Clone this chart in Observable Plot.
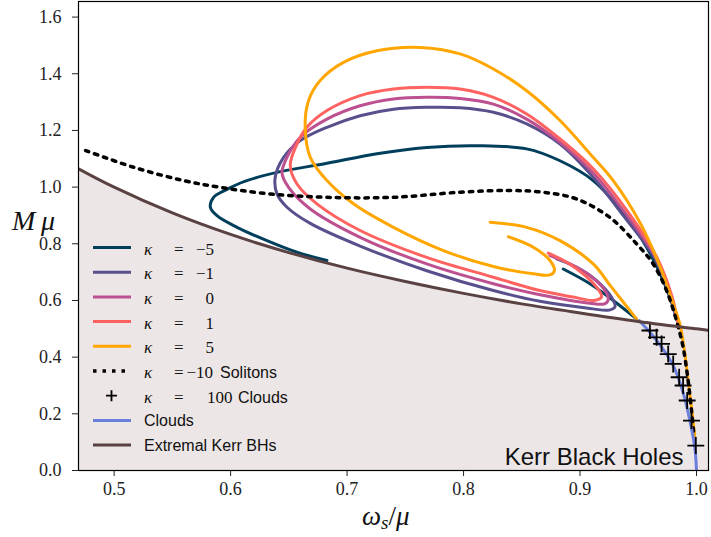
<!DOCTYPE html>
<html><head><meta charset="utf-8">
<script src="https://cdn.jsdelivr.net/npm/d3@7"></script>
<script src="https://cdn.jsdelivr.net/npm/@observablehq/plot@0.6"></script>
<style>html,body{margin:0;padding:0;background:#fff;}</style>
</head><body><div id="chart"></div>
<script>
// ---- data ----
const kerrX = [0.4694,0.5,0.55,0.6,0.65,0.7,0.75,0.8,0.85,0.9,0.95,1.0,1.0103];
const kerrY = [1.065,1.0,0.909,0.833,0.769,0.714,0.667,0.625,0.588,0.556,0.526,0.5,0.495];

const kappaM5Main = [[0.9843,0.517],[0.98,0.576],[0.9714,0.670],[0.9571,0.788],[0.94,0.893],[0.9113,1.023],[0.8828,1.093],[0.8542,1.135],[0.8113,1.146],[0.7684,1.140],[0.7256,1.118],[0.6827,1.084],[0.6398,1.052],[0.6120,1.020],[0.5960,0.990],[0.5854,0.964],[0.5826,0.929],[0.5883,0.899],[0.6055,0.858],[0.6312,0.811],[0.657,0.770],[0.6827,0.741]];
const kappaM5Inner = [[0.8856,0.711],[0.9085,0.659],[0.9285,0.600],[0.9485,0.535]];

const kappaM1Main = [[0.9843,0.517],[0.977,0.62],[0.964,0.75],[0.937,0.90],[0.9113,1.035],[0.8828,1.152],[0.8542,1.223],[0.8256,1.264],[0.797,1.280],[0.7684,1.2815],[0.7398,1.275],[0.7112,1.252],[0.6827,1.211],[0.6598,1.164],[0.6455,1.105],[0.6383,1.035],[0.6398,0.976],[0.6484,0.929],[0.6684,0.872],[0.7112,0.792],[0.7684,0.705],[0.8256,0.635],[0.8656,0.597],[0.9085,0.572],[0.925,0.566],[0.93,0.578],[0.9271,0.611],[0.9142,0.670],[0.8971,0.717],[0.88,0.747]];

const kappa0Main = [[0.9843,0.517],[0.978,0.62],[0.965,0.752],[0.940,0.902],[0.9113,1.050],[0.8828,1.158],[0.8542,1.240],[0.8256,1.293],[0.797,1.313],[0.7684,1.317],[0.7398,1.311],[0.7112,1.287],[0.6827,1.240],[0.6598,1.176],[0.6484,1.105],[0.6441,1.050],[0.6498,0.999],[0.6684,0.923],[0.7112,0.823],[0.7684,0.729],[0.8256,0.659],[0.8656,0.620],[0.9085,0.590],[0.921,0.588],[0.9242,0.602],[0.9214,0.635],[0.9085,0.688],[0.8913,0.729],[0.8742,0.758]];

const kappa1Main = [[0.9843,0.517],[0.9785,0.62],[0.966,0.752],[0.943,0.902],[0.9113,1.065],[0.8828,1.170],[0.8542,1.258],[0.8256,1.317],[0.797,1.346],[0.7684,1.352],[0.7398,1.346],[0.7112,1.323],[0.6827,1.270],[0.6655,1.211],[0.657,1.152],[0.6512,1.076],[0.657,1.011],[0.6741,0.941],[0.7112,0.847],[0.7684,0.752],[0.8256,0.682],[0.8656,0.635],[0.8942,0.612],[0.912,0.600],[0.9185,0.613],[0.9142,0.647],[0.9027,0.694],[0.8885,0.735],[0.8727,0.767]];

const kappa5Main = [[0.9985,0.12],[0.9957,0.223],[0.9928,0.317],[0.99,0.412],[0.9857,0.517],[0.98,0.588],[0.9686,0.72],[0.9514,0.875],[0.9285,1.023],[0.9113,1.105],[0.8828,1.235],[0.8542,1.340],[0.8256,1.417],[0.797,1.470],[0.7627,1.493],[0.7256,1.481],[0.6969,1.440],[0.6769,1.376],[0.6669,1.305],[0.664,1.211],[0.6684,1.105],[0.6827,1.023],[0.7055,0.941],[0.7398,0.858],[0.7827,0.776],[0.8256,0.720],[0.8599,0.694],[0.8742,0.690],[0.878,0.705],[0.8742,0.741],[0.8599,0.788],[0.8384,0.825]];
const kappa5Inner = [[0.8228,0.876],[0.8542,0.858],[0.8828,0.811],[0.9113,0.729],[0.927,0.647],[0.9485,0.535]];

const solitonsM10 = [[0.4755,1.129],[0.5168,1.070],[0.5597,1.023],[0.5912,0.999],[0.6312,0.977],[0.6827,0.964],[0.7398,0.964],[0.797,0.982],[0.8399,0.988],[0.8684,0.982],[0.8971,0.958],[0.9256,0.893],[0.9485,0.800],[0.9628,0.729],[0.9743,0.635],[0.9828,0.529],[0.9885,0.435],[0.9928,0.317],[0.9957,0.212],[0.9977,0.129]];

const cloudsLine = [[0.9508,0.529],[0.9657,0.459],[0.98,0.370],[0.9885,0.275],[0.9943,0.176],[0.9985,0.082],[1.0,0.0]];
const clouds100 = [[0.96,0.494],[0.9657,0.470],[0.97,0.447],[0.9757,0.411],[0.98,0.376],[0.9851,0.329],[0.9885,0.300],[0.992,0.247],[0.9957,0.176],[0.9994,0.088]];

const xTicks = [0.5,0.6,0.7,0.8,0.9,1.0];
const yTicks = [0,0.2,0.4,0.6,0.8,1.0,1.2,1.4,1.6];

const kappaLabels = ["\u22125","\u22121","0","1","5"];
const kappaColors = ["#003f5c","#58508d","#bc5090","#ff6361","#ffa600"];
const cloudsColor = "#6a7fdb";
const kerrColor = "#5b4242";
const kerrFill = "#ede6e6";

// ---- build tables ----
const toRows = (arr) => arr.map(([x,y]) => ({x,y}));
const kerr = kerrX.map((x,i) => ({x, y: kerrY[i]}));
const kappaSeries = [
  [kappaM5Main, kappaM5Inner],
  [kappaM1Main],
  [kappa0Main],
  [kappa1Main],
  [kappa5Main, kappa5Inner]
];

const lineMarks = [];
kappaSeries.forEach((parts, i) => {
  parts.forEach(p => lineMarks.push(Plot.line(toRows(p), {x:"x", y:"y", stroke: kappaColors[i], strokeWidth: 3, curve: "catmull-rom", clip: true})));
});

const serif = "'Liberation Serif', serif", sans = "'Liberation Sans', sans-serif";

const chart = Plot.plot({
  width: 711, height: 537,
  marginLeft: 78, marginRight: 3, marginTop: 1, marginBottom: 67,
  style: {fontFamily: serif, fontSize: "18px", color: "#222", background: "#fff"},
  x: {domain: [0.4694, 1.0103]},
  y: {domain: [0, 1.655]},
  marks: [
    Plot.areaY(kerr, {x:"x", y:"y", fill: kerrFill, curve: "catmull-rom", clip: true}),
    ...lineMarks,
    Plot.line(toRows(solitonsM10), {x:"x", y:"y", stroke:"black", strokeWidth:3.5, strokeDasharray:"3.5 6", curve:"catmull-rom", clip:true}),
    Plot.line(toRows(cloudsLine), {x:"x", y:"y", stroke: cloudsColor, strokeWidth:3, curve:"catmull-rom", clip:true}),
    Plot.dot(toRows(clouds100), {x:"x", y:"y", symbol:"plus", r:5.5, stroke:"black", strokeWidth:1.8}),
    Plot.line(kerr, {x:"x", y:"y", stroke: kerrColor, strokeWidth:3, curve:"catmull-rom", clip:true}),
    Plot.axisX({ticks: xTicks, tickFormat: d3.format(".1f"), tickSize: 6, tickPadding: 6, fontSize: 18, fontFamily: serif, label: null}),
    Plot.axisY({ticks: yTicks, tickFormat: d3.format(".1f"), tickSize: 6, tickPadding: 11, fontSize: 18, fontFamily: serif, label: null}),
    Plot.text(["Kerr Black Holes"], {frameAnchor:"bottom-right", dx:-25, dy:-6, fontSize:24, fontFamily: sans, textAnchor:"end", lineAnchor:"bottom", fill:"#111"}),
    Plot.frame({stroke:"black", strokeWidth:1.2})
  ]
});
document.getElementById("chart").appendChild(chart);

// ---- axis labels & legend ----
const svg = d3.select(chart);
const txt = (parent, x, y, s, opts = {}) => {
  const t = parent.append("text").attr("x", x).attr("y", y)
    .style("font-family", opts.family || serif)
    .style("font-size", (opts.size || 17) + "px")
    .style("font-style", opts.italic ? "italic" : "normal")
    .style("text-anchor", opts.anchor || "start")
    .style("fill", "#111");
  if (s !== null) t.text(s);
  return t;
};
txt(svg, 12, 230, "M\u2009\u03bc", {size: 28, italic: true});
const xl = txt(svg, 362, 525, null, {size: 27});
xl.append("tspan").style("font-style","italic").text("\u03c9");
xl.append("tspan").style("font-style","italic").style("font-size","19px").attr("dy",4).text("s");
xl.append("tspan").attr("dy",-4).text("/");
xl.append("tspan").style("font-style","italic").text("\u03bc");

const lg = svg.append("g");
const rowY = (i) => 247.5 + i*24.7;
const addKappa = (i, val, valX, anchor, extra, extraX) => {
  const y = rowY(i) + 7;
  txt(lg, 144, y, "\u03ba", {italic: true});
  txt(lg, 174, y, "=");
  txt(lg, valX, y, val, {anchor});
  if (extra) txt(lg, extraX, y, extra, {family: sans, size: 16});
};
kappaLabels.forEach((lab, i) => {
  lg.append("line").attr("x1",93).attr("x2",131).attr("y1",rowY(i)).attr("y2",rowY(i)).attr("stroke",kappaColors[i]).attr("stroke-width",3);
  addKappa(i, lab, 214, "end");
});
lg.append("line").attr("x1",93).attr("x2",131).attr("y1",rowY(5)).attr("y2",rowY(5)).attr("stroke","black").attr("stroke-width",3.5).attr("stroke-dasharray","3.5 6");
addKappa(5, "\u221210", 213, "end", "Solitons", 220);
lg.append("path").attr("d",`M106,${rowY(6)}h11M111.5,${rowY(6)-5.5}v11`).attr("stroke","black").attr("stroke-width",1.8);
addKappa(6, "100", 207, "start", "Clouds", 238);
lg.append("line").attr("x1",93).attr("x2",131).attr("y1",rowY(7)).attr("y2",rowY(7)).attr("stroke",cloudsColor).attr("stroke-width",3);
txt(lg, 144, rowY(7)+6, "Clouds", {family: sans, size: 16});
lg.append("line").attr("x1",93).attr("x2",131).attr("y1",rowY(8)).attr("y2",rowY(8)).attr("stroke",kerrColor).attr("stroke-width",3);
txt(lg, 144, rowY(8)+6, "Extremal Kerr BHs", {family: sans, size: 16});
</script></body></html>
